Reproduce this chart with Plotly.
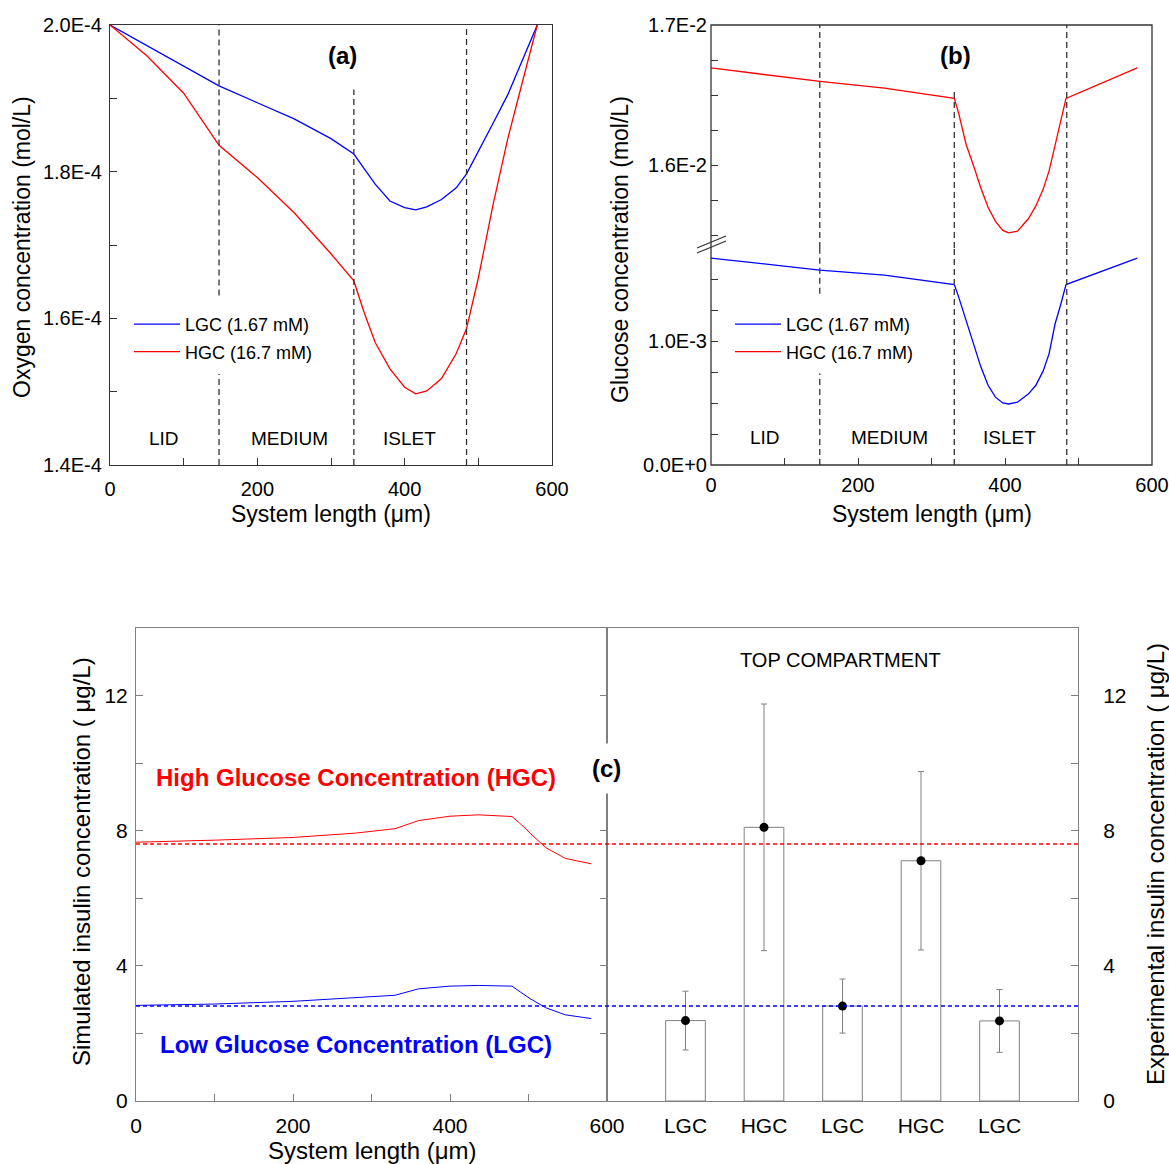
import plotly.graph_objects as go

# ---------------- data ----------------
# Panel (a): oxygen concentration (mol/L) vs system length (um)
a_x = [0, 50, 100, 148, 200, 250, 300, 331, 345, 360, 380, 400, 415, 430, 450, 470, 484, 500, 520, 540, 560, 580]
a_lgc = [2.000, 1.972, 1.944, 1.917, 1.894, 1.872, 1.845, 1.824, 1.804, 1.783, 1.760, 1.751, 1.748, 1.752,
         1.762, 1.778, 1.797, 1.827, 1.866, 1.905, 1.952, 2.000]
a_hgc = [2.000, 1.958, 1.907, 1.836, 1.792, 1.744, 1.688, 1.651, 1.608, 1.567, 1.531, 1.506, 1.497, 1.501,
         1.518, 1.552, 1.586, 1.655, 1.755, 1.845, 1.923, 2.000]
a_lgc = [v * 1e-4 for v in a_lgc]
a_hgc = [v * 1e-4 for v in a_hgc]

# Panel (b): glucose concentration (mol/L) vs system length (um)
b_x = [0, 148, 236, 331, 337, 347, 357, 367, 377, 387, 397, 405, 417, 432, 442, 452, 460, 468, 476, 483, 580]
b_hgc = [1.6694, 1.6598, 1.6550, 1.6477, 1.637, 1.615, 1.600, 1.584, 1.570, 1.560, 1.5535, 1.5518, 1.553,
         1.562, 1.571, 1.583, 1.596, 1.614, 1.631, 1.6477, 1.6694]
b_lgc = [1.671, 1.575, 1.534, 1.4575, 1.356, 1.164, 0.973, 0.795, 0.644, 0.548, 0.501, 0.493, 0.507,
         0.575, 0.644, 0.760, 0.900, 1.137, 1.301, 1.4575, 1.671]
b_hgc = [v * 1e-2 for v in b_hgc]
b_lgc = [v * 1e-3 for v in b_lgc]

# Panel (c): simulated insulin (ug/L) vs system length
c_x = [0, 50, 100, 200, 280, 330, 360, 400, 436, 479, 490, 502, 522, 547, 580]
c_hgc = [7.66, 7.68, 7.72, 7.80, 7.93, 8.06, 8.30, 8.43, 8.47, 8.42, 8.20, 7.93, 7.50, 7.18, 7.02]
c_lgc = [2.83, 2.85, 2.87, 2.95, 3.05, 3.13, 3.32, 3.40, 3.42, 3.40, 3.22, 3.03, 2.76, 2.55, 2.44]
c_hgc_mean = 7.61
c_lgc_mean = 2.81

# Panel (c): experimental insulin, top compartment
exp_cats = ["LGC", "HGC", "LGC", "HGC", "LGC"]
exp_pos = [1, 2, 3, 4, 5]
exp_vals = [2.38, 8.10, 2.81, 7.11, 2.37]
exp_err = [0.87, 3.65, 0.80, 2.64, 0.93]

# compartment boundaries (um) and labels
boundaries = [148, 331, 484]
region_labels = ["LID", "MEDIUM", "ISLET"]
region_label_x = [73, 243, 406]

# ---------------- layout geometry ----------------
W, H = 1169, 1164
OFF = 0
FW, FH = W, H
def PX(p):
    return (p - OFF) / FW
def PY(p):
    return 1 - (p - OFF) / FH

A_X = [PX(110), PX(552)]
TOP_Y = [PY(465), PY(25)]
B_X = [PX(711), PX(1152)]
B_BRK = PY(248)
C_LX = [PX(136), PX(607)]
C_RX = [PX(607), PX(1078)]
C_Y = [PY(1101), PY(628)]

FONT = "Liberation Sans, Arial, sans-serif"
DARK = "#333333"
GREY = "#808080"
BLUE = "#0000FF"
RED = "#FF0000"

fig = go.Figure()

# (a)
fig.add_trace(go.Scatter(x=a_x, y=a_lgc, mode="lines", line=dict(color=BLUE, width=1.3),
                         name="LGC (1.67 mM)", xaxis="x", yaxis="y", legend="legend", legendgroup="a1"))
fig.add_trace(go.Scatter(x=a_x, y=a_hgc, mode="lines", line=dict(color=RED, width=1.3),
                         name="HGC (16.7 mM)", xaxis="x", yaxis="y", legend="legend", legendgroup="a2"))
# (b)
fig.add_trace(go.Scatter(x=b_x, y=b_lgc, mode="lines", line=dict(color=BLUE, width=1.3),
                         name="LGC (1.67 mM)", xaxis="x2", yaxis="y3", legend="legend2", legendgroup="b1"))
fig.add_trace(go.Scatter(x=b_x, y=b_hgc, mode="lines", line=dict(color=RED, width=1.3),
                         name="HGC (16.7 mM)", xaxis="x2", yaxis="y2", legend="legend2", legendgroup="b2"))
# (c) left
fig.add_trace(go.Scatter(x=c_x, y=c_hgc, mode="lines", line=dict(color=RED, width=1),
                         showlegend=False, xaxis="x3", yaxis="y4"))
fig.add_trace(go.Scatter(x=c_x, y=c_lgc, mode="lines", line=dict(color=BLUE, width=1),
                         showlegend=False, xaxis="x3", yaxis="y4"))
# (c) right
fig.add_trace(go.Bar(x=exp_pos, y=exp_vals, width=0.505, marker=dict(color="white", line=dict(color=GREY, width=1)),
                     showlegend=False, xaxis="x4", yaxis="y5"))
fig.add_trace(go.Scatter(x=exp_pos, y=exp_vals, mode="markers",
                         marker=dict(color="black", size=9),
                         error_y=dict(type="data", array=exp_err, visible=True, color=GREY, thickness=1, width=3),
                         showlegend=False, xaxis="x4", yaxis="y5"))

tickfont = dict(family=FONT, size=20, color="black")
tickfont_c = dict(family=FONT, size=21, color="black")

common = dict(automargin=False, showgrid=False, zeroline=False, ticklen=7, ticklabeloverflow="allow")

layout = dict(
    template="none",
    width=FW, height=FH, margin=dict(l=0, r=0, t=0, b=0, pad=0), autosize=False,
    paper_bgcolor="white", plot_bgcolor="white",
    font=dict(family=FONT, color="black"),
    showlegend=True,
    xaxis=dict(domain=A_X, anchor="y", range=[0, 600], tickvals=[0, 100, 200, 300, 400, 500, 600],
               ticktext=["0", "", "200", "", "400", "", "600"], ticks="inside",
               tickcolor=DARK, showline=True, mirror=True, linecolor=DARK, linewidth=1.3,
               tickfont=tickfont, ticklabelstandoff=6, **common),
    yaxis=dict(domain=TOP_Y, anchor="x", range=[1.4e-4, 2.0e-4],
               tickvals=[1.4e-4, 1.5e-4, 1.6e-4, 1.7e-4, 1.8e-4, 1.9e-4, 2.0e-4],
               ticktext=["1.4E-4", "", "1.6E-4", "", "1.8E-4", "", "2.0E-4"], ticks="inside",
               tickcolor=DARK, showline=True, mirror=True, linecolor=DARK, linewidth=1.3,
               tickfont=tickfont, ticklabelstandoff=3, **common),
    xaxis2=dict(domain=B_X, anchor="y3", range=[0, 600], tickvals=[0, 100, 200, 300, 400, 500, 600],
                ticktext=["0", "", "200", "", "400", "", "600"], ticks="inside",
                tickcolor=DARK, showline=False, tickfont=tickfont, ticklabelstandoff=6, **common),
    yaxis2=dict(domain=[B_BRK, TOP_Y[1]], anchor="x2", range=[0.01541, 0.017],
                tickvals=[0.0155, 0.01575, 0.016, 0.01625, 0.0165, 0.01675, 0.017],
                ticktext=["", "", "1.6E-2", "", "", "", "1.7E-2"], ticks="inside",
                tickcolor=DARK, showline=False, tickfont=tickfont, ticklabelstandoff=3, **common),
    yaxis3=dict(domain=[TOP_Y[0], B_BRK], anchor="x2", range=[0, 0.001753],
                tickvals=[0, 0.00025, 0.0005, 0.00075, 0.001, 0.00125, 0.0015],
                ticktext=["0.0E+0", "", "", "", "1.0E-3", "", ""], ticks="inside",
                tickcolor=DARK, showline=False, tickfont=tickfont, ticklabelstandoff=3, **common),
    xaxis3=dict(domain=C_LX, anchor="y4", range=[0, 600], tickvals=[0, 100, 200, 300, 400, 500, 600],
                ticktext=["0", "", "200", "", "400", "", "600"], ticks="inside",
                tickcolor=GREY, showline=True, mirror=True, linecolor=GREY, linewidth=1,
                tickfont=tickfont_c, ticklabelstandoff=6, **common),
    yaxis4=dict(domain=C_Y, anchor="x3", range=[0, 14], tickvals=[0, 2, 4, 6, 8, 10, 12],
                ticktext=["0", "", "4", "", "8", "", "12"], ticks="inside",
                tickcolor=GREY, showline=True, mirror="ticks", linecolor=GREY, linewidth=1,
                tickfont=tickfont_c, ticklabelstandoff=3, **common),
    xaxis4=dict(domain=C_RX, anchor="y5", range=[0, 6], tickvals=exp_pos, ticktext=exp_cats,
                ticks="", showline=True, mirror=True, linecolor=GREY, linewidth=1,
                tickfont=tickfont_c, ticklabelstandoff=6, automargin=False, showgrid=False, zeroline=False,
                ticklabeloverflow="allow"),
    yaxis5=dict(domain=C_Y, anchor="x4", side="right", range=[0, 14], tickvals=[0, 2, 4, 6, 8, 10, 12],
                ticktext=["0", "", "4", "", "8", "", "12"], ticks="inside",
                tickcolor=GREY, showline=True, mirror=True, linecolor=GREY, linewidth=1,
                tickfont=tickfont_c, ticklabelstandoff=20, **common),
    legend=dict(x=PX(129), y=PY(306), xanchor="left", yanchor="top", bgcolor="rgba(0,0,0,0)",
                font=dict(family=FONT, size=18, color="black"), itemwidth=46, tracegroupgap=1,
                traceorder="grouped", borderwidth=0),
    legend2=dict(x=PX(730), y=PY(306), xanchor="left", yanchor="top", bgcolor="rgba(0,0,0,0)",
                 font=dict(family=FONT, size=18, color="black"), itemwidth=46, tracegroupgap=1,
                 traceorder="grouped", borderwidth=0),
)
fig.update_layout(**layout)

shapes = []
dash_style = dict(color=DARK, width=1.3, dash="6px,4px")
# (a) compartment dividers (segments leave room for the legend and label)
a_seg = [(boundaries[0], 1.4e-4, 1.524e-4), (boundaries[0], 1.631e-4, 2.0e-4),
         (boundaries[1], 1.4e-4, 1.912e-4), (boundaries[2], 1.4e-4, 2.0e-4)]
for xb, y0, y1 in a_seg:
    shapes.append(dict(type="line", xref="x", yref="y", x0=xb, x1=xb, y0=y0, y1=y1, line=dash_style))
# (b) compartment dividers
b_seg = [(boundaries[0], "y3", 0, 0.00074), (boundaries[0], "y3", 0.001384, 0.001753),
         (boundaries[0], "y2", 0.01541, 0.017),
         (boundaries[1], "y3", 0, 0.001753), (boundaries[1], "y2", 0.01541, 0.01653),
         (boundaries[2], "y3", 0, 0.001753), (boundaries[2], "y2", 0.01541, 0.017)]
for xb, yr, y0, y1 in b_seg:
    shapes.append(dict(type="line", xref="x2", yref=yr, x0=xb, x1=xb, y0=y0, y1=y1, line=dash_style))
# (b) frame and axis-break marks
shapes.append(dict(type="rect", xref="paper", yref="paper", x0=B_X[0], x1=B_X[1], y0=TOP_Y[0], y1=TOP_Y[1],
                   line=dict(color=DARK, width=1.3)))
for dy in (0, 5):
    shapes.append(dict(type="line", xref="paper", yref="paper",
                       x0=B_X[0] - 14 / FW, x1=B_X[0] + 15 / FW,
                       y0=B_BRK - (5 - dy) / FH, y1=B_BRK + (7 + dy) / FH,
                       line=dict(color=DARK, width=1.3)))
# (c) simulated mean levels across both halves
shapes.append(dict(type="line", xref="paper", yref="y4", x0=C_LX[0], x1=C_RX[1], y0=c_hgc_mean, y1=c_hgc_mean,
                   line=dict(color=RED, width=1.5, dash="4px,3px")))
shapes.append(dict(type="line", xref="paper", yref="y4", x0=C_LX[0], x1=C_RX[1], y0=c_lgc_mean, y1=c_lgc_mean,
                   line=dict(color=BLUE, width=1.5, dash="4px,3px")))
fig.update_layout(shapes=shapes)

ann = []
title_font = dict(family=FONT, size=23, color="black")
title_font_c = dict(family=FONT, size=24, color="black")
label_font = dict(family=FONT, size=19, color="black")
def A(**kw):
    d = dict(showarrow=False, xanchor="center", yanchor="middle")
    d.update(kw)
    ann.append(d)
# axis titles
A(text="Oxygen concentration (mol/L)", xref="paper", yref="paper", x=PX(22), y=PY(247),
  textangle=-90, font=title_font)
A(text="System length (\u03bcm)", xref="paper", yref="paper", x=PX(331), y=PY(514), font=title_font)
A(text="Glucose concentration (mol/L)", xref="paper", yref="paper", x=PX(620), y=PY(249),
  textangle=-90, font=title_font)
A(text="System length (\u03bcm)", xref="paper", yref="paper", x=PX(932), y=PY(514), font=title_font)
A(text="Simulated insulin concentration ( \u03bcg/L)", xref="paper", yref="paper", x=PX(81),
  y=PY(862), textangle=-90, font=title_font_c)
A(text="Experimental insulin concentration ( \u03bcg/L)", xref="paper", yref="paper", x=PX(1155),
  y=PY(864), textangle=-90, font=title_font_c)
A(text="System length (\u03bcm)", xref="paper", yref="paper", x=PX(372), y=PY(1150), font=title_font_c)
# panel letters
A(text="<b>(a)</b>", xref="x", yref="y", x=316, y=1.958e-4, font=dict(family=FONT, size=24, color="black"))
A(text="<b>(b)</b>", xref="x2", yref="y2", x=332, y=0.01678, font=dict(family=FONT, size=24, color="black"))
A(text="<b>(c)</b>", xref="paper", yref="paper", x=PX(606), y=PY(768),
  font=dict(family=FONT, size=24, color="black"), bgcolor="white", borderpad=11)
# region labels
for lab, lx in zip(region_labels, region_label_x):
    A(text=lab, xref="x", yref="y", x=lx, y=1.4365e-4, font=label_font)
    A(text=lab, xref="x2", yref="y3", x=lx, y=0.000219, font=label_font)
# panel (c) texts
A(text="<b>High Glucose Concentration (HGC)</b>", xref="x3", yref="y4", x=280, y=9.57,
  font=dict(family=FONT, size=24, color=RED))
A(text="<b>Low Glucose Concentration (LGC)</b>", xref="x3", yref="y4", x=280, y=1.66,
  font=dict(family=FONT, size=24, color=BLUE))
A(text="TOP COMPARTMENT", xref="x4", yref="y5", x=2.97, y=13.04, font=dict(family=FONT, size=20, color="black"))
fig.update_layout(annotations=ann)

fig.write_html("out.html", config={"displayModeBar": False},
               post_script="document.body.style.margin='0';document.body.style.overflow='hidden';")
